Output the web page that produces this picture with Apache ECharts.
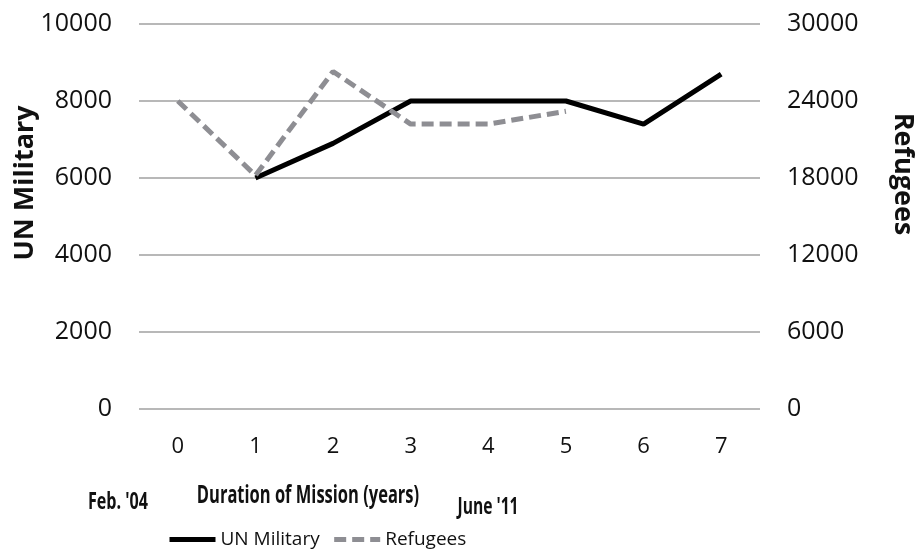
<!DOCTYPE html>
<html>
<head>
<meta charset="utf-8">
<script src="https://cdn.jsdelivr.net/npm/echarts@6/dist/echarts.min.js"></script>
<style>
  html, body { margin: 0; padding: 0; background: #fff; }
  #chart { width: 920px; height: 557px; }
</style>
</head>
<body>
<div id="chart"></div>
<script>
// years since start of mission
const years = ['0', '1', '2', '3', '4', '5', '6', '7']
const unMilitary = [null, 6000, 6900, 8000, 8000, 8000, 7400, 8700]
const refugees = [24000, 18200, 26300, 22200, 22200, 23200, null, null]

// axis ranges
const leftMax = 10000
const leftStep = 2000
const rightMax = 30000
const rightStep = 6000

const base = '"Open Sans", sans-serif'

const chart = echarts.init(document.getElementById('chart'))

const option = {
  backgroundColor: '#fff',
  animation: false,
  grid: { left: 139, right: 160, top: 24, bottom: 148 },
  legend: {
    left: 162,
    top: 525,
    itemWidth: 46,
    itemHeight: 14,
    itemGap: 12,
    itemStyle: { opacity: 0 },
    lineStyle: { width: 5 },
    textStyle: { fontFamily: base, fontSize: 19, color: '#111' },
    data: ['UN Military', 'Refugees']
  },
  xAxis: {
    type: 'category',
    data: years,
    axisLine: { show: false },
    axisTick: { show: false },
    axisLabel: { margin: 27, fontFamily: base, fontSize: 22, color: '#111' }
  },
  yAxis: [
    {
      type: 'value',
      min: 0,
      max: leftMax,
      interval: leftStep,
      axisLine: { show: false },
      axisTick: { show: false },
      axisLabel: { margin: 27, fontFamily: base, fontSize: 25, color: '#111', formatter: v => String(v) },
      splitLine: { lineStyle: { color: '#a0a0a0', width: 1.5 } }
    },
    {
      type: 'value',
      min: 0,
      max: rightMax,
      interval: rightStep,
      axisLine: { show: false },
      axisTick: { show: false },
      axisLabel: { margin: 27, fontFamily: base, fontSize: 25, color: '#111', formatter: v => String(v) },
      splitLine: { show: false }
    }
  ],
  series: [
    {
      name: 'UN Military',
      type: 'line',
      yAxisIndex: 0,
      data: unMilitary,
      symbol: 'none',
      itemStyle: { color: '#000' },
      lineStyle: { color: '#000', width: 5 }
    },
    {
      name: 'Refugees',
      type: 'line',
      yAxisIndex: 1,
      data: refugees,
      symbol: 'none',
      itemStyle: { color: '#8e8e93' },
      lineStyle: { color: '#8e8e93', width: 5, type: [12, 6] }
    }
  ],
  // axis titles and date notes (condensed with scaleX like the original)
  graphic: [
    {
      type: 'text', x: 25, y: 183, rotation: Math.PI / 2,
      style: { text: 'UN Military', fontFamily: base, fontWeight: 'bold', fontSize: 27,
        fill: '#111', align: 'center', verticalAlign: 'middle' }
    },
    {
      type: 'text', x: 903, y: 174, rotation: -Math.PI / 2,
      style: { text: 'Refugees', fontFamily: base, fontWeight: 'bold', fontSize: 27,
        fill: '#111', align: 'center', verticalAlign: 'middle' }
    },
    {
      type: 'text', x: 308, y: 496, scaleX: 0.66,
      style: { text: 'Duration of Mission (years)', fontFamily: base, fontWeight: 'bold', fontSize: 25,
        fill: '#111', align: 'center', verticalAlign: 'middle' }
    },
    {
      type: 'text', x: 118, y: 502, scaleX: 0.7,
      style: { text: "Feb. '04", fontFamily: base, fontWeight: 'bold', fontSize: 23,
        fill: '#111', align: 'center', verticalAlign: 'middle' }
    },
    {
      type: 'text', x: 488, y: 507, scaleX: 0.68,
      style: { text: "June '11", fontFamily: base, fontWeight: 'bold', fontSize: 23,
        fill: '#111', align: 'center', verticalAlign: 'middle' }
    }
  ]
}

chart.setOption(option)
</script>
</body>
</html>
